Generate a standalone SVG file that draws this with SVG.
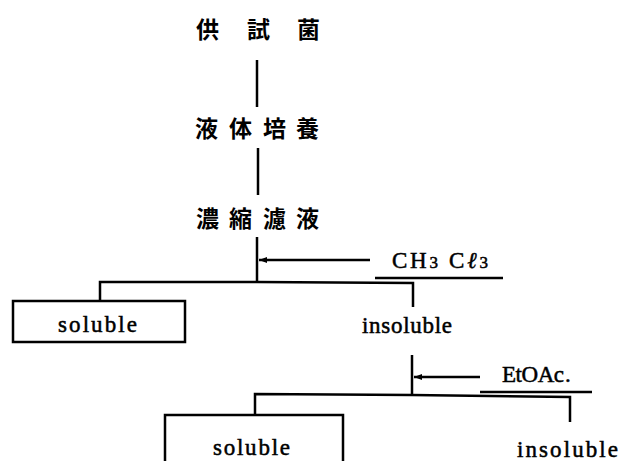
<svg xmlns="http://www.w3.org/2000/svg" width="621" height="461" viewBox="0 0 621 461">
<style>
.cjk{font-family:"Noto Sans CJK JP","Noto Sans CJK SC",sans-serif;font-size:23px;font-weight:bold;fill:#000}
.lat{font-family:"Liberation Serif",serif;font-size:23px;fill:#000;stroke:#000;stroke-width:0.5}
.ln{stroke:#000;stroke-width:2.5;fill:none}
.bx{stroke:#000;stroke-width:2.5;fill:#fff}
</style>
<defs>
<marker id="ah" viewBox="0 0 8 8" refX="8" refY="4" markerWidth="8" markerHeight="8" markerUnits="userSpaceOnUse" orient="auto">
<path d="M0,1 L8,4 L0,7 Z" fill="#000"/>
</marker>
</defs>
<g id="connectors">
<line class="ln" x1="257" y1="60" x2="257" y2="107"/>
<line class="ln" x1="258" y1="148" x2="258" y2="195"/>
<line class="ln" x1="257" y1="237" x2="257" y2="283"/>
<line class="ln" x1="370" y1="260" x2="259" y2="260" marker-end="url(#ah)"/>
<line class="ln" x1="375" y1="278" x2="503" y2="278"/>
<polyline class="ln" points="100,301 100,282 257,282 413,283 413,307"/>
<line class="ln" x1="412" y1="355" x2="412" y2="396"/>
<line class="ln" x1="480" y1="377" x2="414" y2="377" marker-end="url(#ah)"/>
<line class="ln" x1="480" y1="392" x2="592" y2="392"/>
<polyline class="ln" points="255,415 255,394 412,395 570,397 570,422"/>
</g>
<g id="n1"><text class="cjk" y="38"><tspan x="196">供</tspan><tspan x="247">試</tspan><tspan x="297">菌</tspan></text></g>
<g id="n2"><text class="cjk" y="137"><tspan x="195">液</tspan><tspan x="229">体</tspan><tspan x="263">培</tspan><tspan x="296">養</tspan></text></g>
<g id="n3"><text class="cjk" y="227"><tspan x="196">濃</tspan><tspan x="229">縮</tspan><tspan x="263">濾</tspan><tspan x="296">液</tspan></text></g>
<g id="reagent1"><text class="lat" x="392" y="268" font-size="25" textLength="96" lengthAdjust="spacing">CH<tspan font-size="17">3</tspan> C<tspan font-style="italic">ℓ</tspan><tspan font-size="17">3</tspan></text></g>
<g id="soluble1"><rect class="bx" x="13" y="301" width="172" height="41"/><text class="lat" x="58" y="332" textLength="79" lengthAdjust="spacing">soluble</text></g>
<g id="insoluble1"><text class="lat" x="362" y="333" textLength="90" lengthAdjust="spacing">insoluble</text></g>
<g id="reagent2"><text class="lat" x="502" y="382" font-size="24" textLength="62" lengthAdjust="spacing">EtOAc</text><text class="lat" x="565" y="382" font-size="8">.</text></g>
<g id="soluble2"><rect class="bx" x="165" y="415" width="178" height="52"/><text class="lat" x="213" y="455" textLength="77" lengthAdjust="spacing">soluble</text></g>
<g id="insoluble2"><text class="lat" x="517" y="457" textLength="101" lengthAdjust="spacing">insoluble</text></g>
</svg>
